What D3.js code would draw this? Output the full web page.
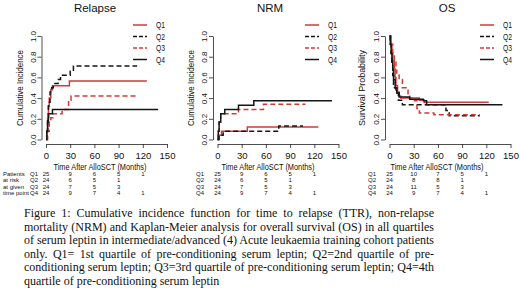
<!DOCTYPE html>
<html>
<head>
<meta charset="utf-8">
<script src="https://cdn.jsdelivr.net/npm/d3@7"></script>
<style>
body { margin: 0; background: #fff; }
svg { display: block; }
text { font-family: "Liberation Sans", Arial, sans-serif; fill: #111; }
</style>
</head>
<body>
<div id="chart-area"></div>
<script>
var months = [0, 30, 60, 90, 120, 150];
var yTicks = [0, 0.2, 0.4, 0.6, 0.8, 1.0];
var groups = ["Q1", "Q2", "Q3", "Q4"];
var panelTitles = ["Relapse", "NRM", "OS"];
var yTitles = ["Cumulative Incidence", "Cumulative Incidence", "Survival Probability"];
var xTitle = "Time After AlloSCT (Months)";
var riskTimes = [0, 30, 60, 90, 120];
var riskLabels = ["Patients", "at risk", "at given", "time point"];

// step curves, [month, value]
var relapseQ1 = [[0, 0], [1, 0.08], [2, 0.2], [3, 0.32], [4, 0.4], [6, 0.48], [8, 0.52], [29, 0.565], [125, 0.565]];
var relapseQ2 = [[0, 0], [1, 0.08], [2, 0.2], [3, 0.36], [5, 0.46], [7, 0.5], [9, 0.54], [15, 0.58], [18, 0.62], [30, 0.66], [34, 0.71], [113, 0.71]];
var relapseQ3 = [[0, 0], [2, 0.08], [4, 0.17], [6, 0.21], [9, 0.25], [20, 0.29], [28, 0.38], [31, 0.42], [111, 0.42]];
var relapseQ4 = [[0, 0], [1, 0.08], [2, 0.17], [3, 0.25], [8, 0.29], [139, 0.29]];

var nrmQ1 = [[0, 0], [1, 0.04], [5, 0.08], [37, 0.12], [125, 0.12]];
var nrmQ2 = [[0, 0], [2, 0.04], [7, 0.08], [76, 0.13], [106, 0.13]];
var nrmQ3 = [[0, 0], [1, 0.08], [2, 0.17], [4, 0.25], [26, 0.29], [57, 0.34], [109, 0.34]];
var nrmQ4 = [[0, 0], [1, 0.08], [2, 0.17], [4, 0.25], [9, 0.29], [26, 0.33], [45, 0.375], [142, 0.375]];

var osQ1 = [[0, 1], [1, 0.96], [2, 0.92], [3, 0.84], [4, 0.76], [6, 0.68], [7, 0.6], [8, 0.52], [10, 0.46], [12, 0.42], [14, 0.4], [37, 0.38], [43, 0.36], [123, 0.36]];
var osQ2 = [[0, 1], [1, 0.92], [2, 0.83], [3, 0.75], [4, 0.62], [5, 0.5], [8, 0.45], [11, 0.38], [16, 0.335], [70, 0.28], [74, 0.23], [112, 0.23]];
var osQ3 = [[0, 1], [2, 0.92], [4, 0.83], [6, 0.75], [8, 0.67], [9, 0.62], [12, 0.58], [16, 0.5], [23, 0.42], [25, 0.4], [31, 0.375], [34, 0.3], [37, 0.255], [55, 0.24], [112, 0.24]];
var osQ4 = [[0, 1], [1, 0.92], [2, 0.83], [3, 0.75], [4, 0.67], [5, 0.58], [7, 0.5], [9, 0.45], [12, 0.41], [25, 0.39], [42, 0.375], [46, 0.335], [140, 0.335]];

// numbers at risk per quartile
var riskRelapse = [[25, 9, 6, 5, 1], [24, 6, 5, 1], [24, 7, 5, 3], [24, 9, 7, 4, 1]];
var riskNRM = [[25, 9, 6, 5, 1], [24, 6, 5, 1], [24, 7, 5, 3], [24, 9, 7, 4, 1]];
var riskOS = [[25, 10, 7, 5, 1], [24, 8, 8, 1], [24, 11, 5, 3], [24, 9, 7, 4, 1]];

var captionLines = [
    "Figure 1: Cumulative incidence function for time to relapse (TTR), non-relapse",
    "mortality (NRM) and Kaplan-Meier analysis for overall survival (OS) in all quartiles",
    "of serum leptin in intermediate/advanced (4) Acute leukaemia training cohort patients",
    "only. Q1= 1st quartile of pre-conditioning serum leptin; Q2=2nd quartile of pre-",
    "conditioning serum leptin; Q3=3rd quartile of pre-conditioning serum leptin; Q4=4th",
    "quartile of pre-conditioning serum leptin"
];

var panels = [
    { curves: [relapseQ1, relapseQ2, relapseQ3, relapseQ4], risk: riskRelapse },
    { curves: [nrmQ1, nrmQ2, nrmQ3, nrmQ4], risk: riskNRM },
    { curves: [osQ1, osQ2, osQ3, osQ4], risk: riskOS }
];

// layout
var left = [46, 217.5, 389.5];
var plotW = 121;
var titleX = [95, 270, 447];
var xTitleX = [100, 268, 437];
var yTitleX = [23, 194, 365];
var legendX = [133, 305, 480];
var qLabelX = [34, 200, 372];
var legendY = [25, 36.5, 48, 59.5];
var riskY = [175.5, 182, 188.5, 195];

var red = "#d23a3a", black = "#151515";
var colors = [red, black, red, black];
var dashes = [null, "5,3", "5,3", null];

var svg = d3.select("#chart-area")
    .append("svg")
    .attr("width", 520)
    .attr("height", 290)
    .style("background", "#fff");

var y = d3.scaleLinear().domain([0, 1]).range([139.5, 36]);

panels.forEach(function(p, i) {
    var x = d3.scaleLinear().domain([0, 150]).range([left[i], left[i] + plotW]);
    var g = svg.append("g");

    // Axes
    var xAxis = d3.axisBottom(x).tickValues(months).tickSize(4).tickSizeOuter(0).tickPadding(4);
    var gx = g.append("g").attr("transform", "translate(0,144)").call(xAxis);
    gx.selectAll("text").attr("font-size", "9.5px").attr("font-family", "Liberation Sans").attr("fill", "#111");

    var yAxis = d3.axisLeft(y).tickValues(yTicks).tickSize(4).tickSizeOuter(0).tickFormat(d3.format(".1f"));
    var gy = g.append("g").attr("transform", `translate(${left[i] - 4.5},0)`).call(yAxis);
    gy.selectAll("text")
        .attr("x", null).attr("dy", null)
        .attr("text-anchor", "middle")
        .attr("transform", "translate(-6,0) rotate(-90)")
        .attr("font-size", "8px").attr("font-family", "Liberation Sans").attr("fill", "#111");
    g.selectAll(".domain, .tick line").attr("stroke", "#222").attr("stroke-width", 0.8);

    // Titles
    g.append("text").attr("x", titleX[i]).attr("y", 12).attr("text-anchor", "middle")
        .attr("font-size", "11.5px").text(panelTitles[i]);
    g.append("text").attr("x", xTitleX[i]).attr("y", 169.5).attr("text-anchor", "middle")
        .attr("font-size", "9px").attr("textLength", 93).attr("lengthAdjust", "spacingAndGlyphs").text(xTitle);
    g.append("text").attr("transform", `translate(${yTitleX[i]},88) rotate(-90)`).attr("text-anchor", "middle")
        .attr("font-size", "8.5px").attr("textLength", 76).attr("lengthAdjust", "spacingAndGlyphs").text(yTitles[i]);

    // Curves
    var line = d3.line().x(d => x(d[0])).y(d => y(d[1])).curve(d3.curveStepAfter);
    p.curves.forEach(function(c, k) {
        g.append("path")
            .attr("d", line(c))
            .attr("fill", "none")
            .attr("stroke", colors[k])
            .attr("stroke-width", 1.5)
            .attr("stroke-dasharray", dashes[k]);
    });

    // Legend
    groups.forEach(function(q, k) {
        g.append("line").attr("x1", legendX[i]).attr("x2", legendX[i] + 14)
            .attr("y1", legendY[k]).attr("y2", legendY[k])
            .attr("stroke", colors[k]).attr("stroke-width", 1.5)
            .attr("stroke-dasharray", dashes[k] ? "4,2" : null);
        g.append("text").attr("x", legendX[i] + 23).attr("y", legendY[k] + 3)
            .attr("font-size", "8.5px").attr("textLength", 9).attr("lengthAdjust", "spacingAndGlyphs").text(q);
    });

    // Numbers at risk
    p.risk.forEach(function(row, k) {
        g.append("text").attr("x", qLabelX[i]).attr("y", riskY[k]).attr("text-anchor", "middle")
            .attr("font-size", "6px").text(groups[k]);
        row.forEach(function(n, j) {
            g.append("text").attr("x", x(riskTimes[j])).attr("y", riskY[k]).attr("text-anchor", "middle")
                .attr("font-size", "6px").text(n);
        });
    });
});

riskLabels.forEach(function(t, k) {
    svg.append("text").attr("x", 3).attr("y", riskY[k]).attr("font-size", "6px").text(t);
});

// Caption, justified
var capLeft = 24, capWidth = 410;
captionLines.forEach(function(t, k) {
    var txt = svg.append("text")
        .attr("x", capLeft)
        .attr("y", 217.3 + k * 13.45)
        .style("font-family", "'Liberation Serif', 'Times New Roman', serif")
        .style("font-size", "12px")
        .text(t);
    if (k < captionLines.length - 1) {
        var natural = txt.node().getComputedTextLength();
        var spaces = t.split(" ").length - 1;
        txt.style("word-spacing", ((capWidth - natural) / spaces) + "px");
    }
});
</script>
</body>
</html>
